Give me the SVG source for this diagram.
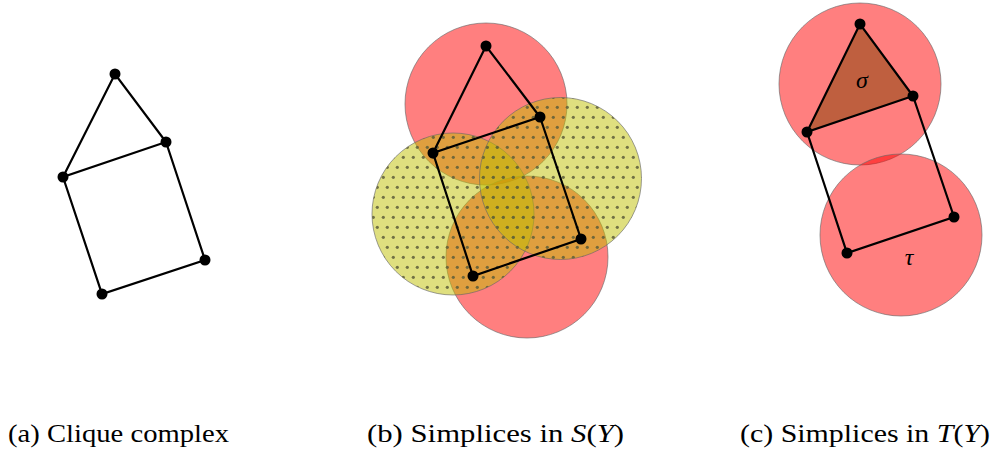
<svg xmlns="http://www.w3.org/2000/svg" width="995" height="449" viewBox="0 0 995 449">
<style>
.edge{stroke:#000;stroke-width:2.2;fill:none;stroke-linecap:round}
.v{fill:#000}
.red{fill:#ff0000;fill-opacity:0.5;stroke:#666;stroke-opacity:0.7;stroke-width:0.9}
.yel{fill:#bfbf00;fill-opacity:0.5;stroke:#666;stroke-opacity:0.7;stroke-width:0.9}
.dot{fill:url(#dots)}
.cap{font-family:"Liberation Serif","DejaVu Serif",serif;font-size:26px;fill:#000}
.math{font-family:"Liberation Serif","DejaVu Serif",serif;font-style:italic;font-size:24px;fill:#000}
</style>
<defs>
<pattern id="dots" patternUnits="userSpaceOnUse" width="10" height="20">
<circle cx="3.3" cy="17.3" r="1.6" fill="#5e5e3a" fill-opacity="0.85"/>
<circle cx="7.3" cy="7.3" r="1.6" fill="#5e5e3a" fill-opacity="0.85"/>
</pattern>
</defs>
<rect width="995" height="449" fill="#fff"/>

<!-- Panel (a) -->
<g id="panel-a">
<g id="a-edges">
<polyline class="edge" points="63,177 115,74 166,142 63,177 102,294 205,260 166,142"/>
</g>
<g id="a-n1"><circle class="v" cx="115" cy="74" r="5.5"/></g>
<g id="a-n2"><circle class="v" cx="166" cy="142" r="5.5"/></g>
<g id="a-n3"><circle class="v" cx="63" cy="177" r="5.5"/></g>
<g id="a-n4"><circle class="v" cx="205" cy="260" r="5.5"/></g>
<g id="a-n5"><circle class="v" cx="102" cy="294" r="5.5"/></g>
</g>

<!-- Panel (b) -->
<g id="panel-b">
<g id="b-balls">
<circle class="red" cx="486" cy="104" r="81"/>
<circle class="red" cx="527" cy="257" r="81"/>
<circle class="yel" cx="453" cy="214" r="81"/>
<circle class="dot" cx="453" cy="214" r="81"/>
<circle class="yel" cx="560.5" cy="178.5" r="81"/>
<circle class="dot" cx="560.5" cy="178.5" r="81"/>
</g>
<g id="b-edges">
<polyline class="edge" points="433,153 486,46 540,117 433,153 473,276 581,239 540,117"/>
</g>
<g id="b-n1"><circle class="v" cx="486" cy="46" r="5.5"/></g>
<g id="b-n2"><circle class="v" cx="540" cy="117" r="5.5"/></g>
<g id="b-n3"><circle class="v" cx="433" cy="153" r="5.5"/></g>
<g id="b-n4"><circle class="v" cx="581" cy="239" r="5.5"/></g>
<g id="b-n5"><circle class="v" cx="473" cy="276" r="5.5"/></g>
</g>

<!-- Panel (c) -->
<g id="panel-c">
<g id="c-balls">
<circle class="red" cx="860" cy="84" r="81"/>
<circle class="red" cx="901" cy="235" r="81"/>
</g>
<g id="c-sigma">
<polygon points="860,24 913,96 807,132" fill="#804000" fill-opacity="0.5"/>
<text class="math" x="862" y="88" text-anchor="middle">σ</text>
</g>
<g id="c-tau"><text class="math" x="909" y="265" text-anchor="middle">τ</text></g>
<g id="c-edges">
<polyline class="edge" points="807,132 860,24 913,96 807,132 847,253 954,217 913,96"/>
</g>
<g id="c-n1"><circle class="v" cx="860" cy="24" r="5.5"/></g>
<g id="c-n2"><circle class="v" cx="913" cy="96" r="5.5"/></g>
<g id="c-n3"><circle class="v" cx="807" cy="132" r="5.5"/></g>
<g id="c-n4"><circle class="v" cx="954" cy="217" r="5.5"/></g>
<g id="c-n5"><circle class="v" cx="847" cy="253" r="5.5"/></g>
</g>

<!-- Captions -->
<g id="captions">
<text class="cap" x="8" y="442" textLength="221" lengthAdjust="spacingAndGlyphs">(a) Clique complex</text>
<text class="cap" x="367" y="442" textLength="257" lengthAdjust="spacingAndGlyphs">(b) Simplices in <tspan font-style="italic">S</tspan>(<tspan font-style="italic">Y</tspan>)</text>
<text class="cap" x="740" y="442" textLength="250" lengthAdjust="spacingAndGlyphs">(c) Simplices in <tspan font-style="italic">T</tspan>(<tspan font-style="italic">Y</tspan>)</text>
</g>
</svg>
